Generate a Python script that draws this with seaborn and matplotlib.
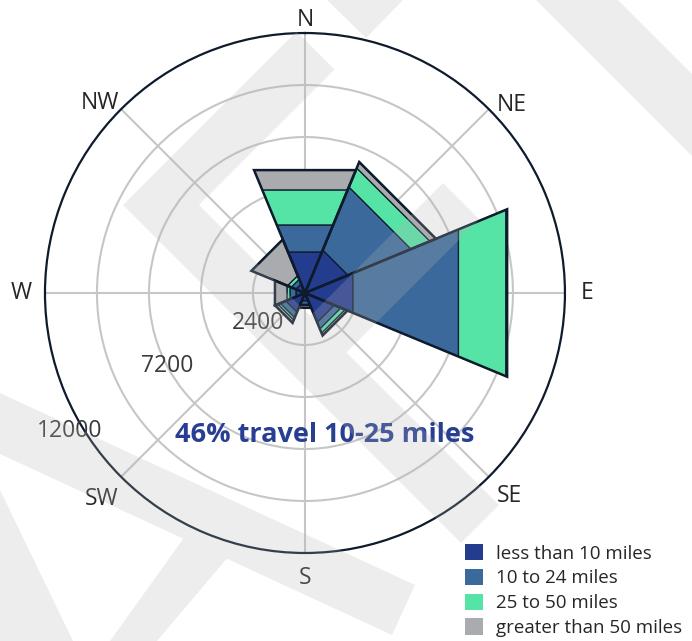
import numpy as np
import matplotlib
matplotlib.use("Agg")
import matplotlib.pyplot as plt
from matplotlib.patches import Patch, PathPatch
from matplotlib.path import Path
import matplotlib.transforms as mtransforms
import seaborn as sns

# datos (viajes por direccion, apilados)
directions = ["N", "NE", "E", "SE", "S", "SW", "W", "NW"]
angles_deg = [0, 45, 90, 135, 180, 225, 270, 315]
less_10 = [2050, 2150, 2400, 1470, 400, 960, 450, 460]
from_10_24 = [1350, 3150, 5270, 330, 170, 280, 300, 230]
from_25_50 = [1750, 945, 2370, 210, 60, 115, 150, 185]
over_50 = [990, 300, 60, 115, 110, 140, 600, 1800]
series_names = ["less than 10 miles", "10 to 24 miles", "25 to 50 miles", "greater than 50 miles"]
series_colors = ["#243c8e", "#3b699b", "#55e3a6", "#aaabaf"]
r_grid = [2400, 4800, 7200, 9600]
r_labels = [2400, 7200, 12000]
r_max = 12000
note = "46% travel 10-25 miles"

sns.set_style("white")
plt.rcParams["font.family"] = ["Open Sans", "DejaVu Sans"]

W, H = 692, 641
fig = plt.figure(figsize=(W / 100, H / 100), dpi=100)
ax = fig.add_axes([0.065, 0.1373, 0.7514, 0.8112], projection="polar")
ax.set_theta_zero_location("N")
ax.set_theta_direction(-1)

edge = "#0e1b2c"
theta = np.deg2rad(angles_deg)
width = np.deg2rad(45)
bottom = np.zeros(len(directions))
for vals, name, col in zip([less_10, from_10_24, from_25_50, over_50], series_names, series_colors):
    bars = ax.bar(theta, vals, width=width, bottom=bottom, color=col,
                  edgecolor=edge, linewidth=0.9, label=name, zorder=3)
    bottom = bottom + np.array(vals)
# contorno grueso de cada barra completa
ax.bar(theta, bottom, width=width, fill=False, edgecolor=edge, linewidth=1.8, zorder=4)
# lados rectos (cuerdas) como en el original, no arcos
bars.patches[0].get_path()._interpolation_steps = 1

ax.set_ylim(0, r_max)
ax.set_yticks(r_grid)
ax.set_yticklabels([])
ax.set_xticks(theta)
ax.set_xticklabels([])
ax.grid(color="#c6c6c6", linewidth=1.5)
ax.set_axisbelow(True)
ax.spines["polar"].set_color(edge)
ax.spines["polar"].set_linewidth(1.6)

# etiquetas de direccion, corridas hacia afuera del circulo (en pixeles)
label_shift = [(0, -13), (23, -4), (22, 0), (21, 19), (0, 25), (-20, 22), (-24, 0), (-21, -6)]
for t, name, (dx, dy) in zip(theta, directions, label_shift):
    tr = ax.transData + mtransforms.ScaledTranslation(dx / 100, -dy / 100, fig.dpi_scale_trans)
    ax.text(t, r_max, name, ha="center", va="center", fontsize=16.5, color="#262626",
            transform=tr, clip_on=False)

# etiquetas radiales (con pequeno corrimiento en pixeles)
rlabel_shift = [(-2, 4), (-3, -5), (-10, 8)]
for v, (dx, dy) in zip(r_labels, rlabel_shift):
    tr = ax.transData + mtransforms.ScaledTranslation(dx / 100, -dy / 100, fig.dpi_scale_trans)
    ax.text(np.deg2rad(240), v, str(v), ha="center", va="center", fontsize=16.5,
            color="#3a3a3a", transform=tr, zorder=5, clip_on=False)

fig.text(325 / W, 1 - 442 / H, note, ha="center", va="baseline", fontsize=19.5,
         fontweight="bold", color="#283e92")

handles = [Patch(facecolor=c, edgecolor="none", label=n) for c, n in zip(series_colors, series_names)]
fig.legend(handles=handles, loc="upper left", bbox_to_anchor=(465 / W, 1 - 544 / H),
           frameon=False, fontsize=13.5, handlelength=0.96, handleheight=0.96,
           handletextpad=0.7, labelspacing=0.33, borderpad=0, borderaxespad=0)

# marca de agua: franjas diagonales claras por encima de todo
stripes = [
    [(296.5, 31.5), (334.5, 69.5), (199, 205), (499, 505), (461, 543), (123, 205)],
    [(327, 0), (366, 38), (403, 0)],
    [(536, 0), (618, 0), (692, 74), (692, 156)],
    [(443, 183), (479.5, 219.5), (346.5, 352.5), (310, 316)],
    [(0, 393), (415, 585), (392, 635), (0, 454)],
    [(0, 490), (73, 641), (0, 641)],
    [(191, 528), (234, 550), (157, 641), (110, 641)],
]
verts, codes = [], []
for poly in stripes:
    p = np.array([(x / W, 1 - y / H) for x, y in poly])
    area = np.sum(p[:, 0] * np.roll(p[:, 1], -1) - np.roll(p[:, 0], -1) * p[:, 1])
    if area < 0:
        p = p[::-1]
    verts += list(p) + [p[0]]
    codes += [Path.MOVETO] + [Path.LINETO] * (len(p) - 1) + [Path.CLOSEPOLY]
fig.add_artist(PathPatch(Path(verts, codes), facecolor="#b5b5b5", edgecolor="none",
                         alpha=0.24, transform=fig.transFigure, zorder=10))

fig.savefig("out.png", dpi=100)
